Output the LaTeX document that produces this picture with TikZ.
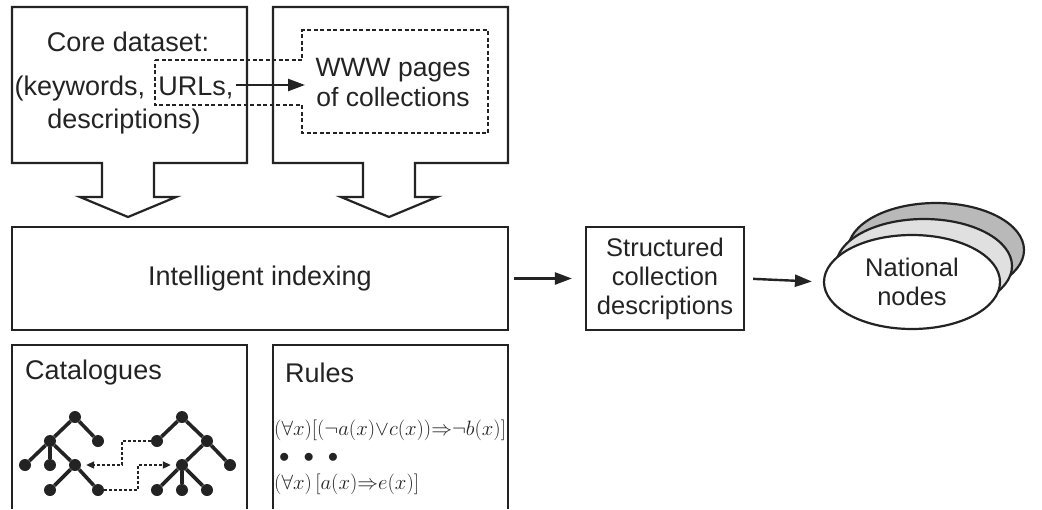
\documentclass[tikz,border=0pt]{standalone}
\usepackage[no-math]{fontspec}
\setmainfont{Liberation Sans}
\usepackage{amsmath,amssymb}
\usepackage{xcolor}
\usetikzlibrary{arrows.meta,positioning,shapes.geometric}
\definecolor{ink}{RGB}{35,35,35}
\definecolor{backgray}{RGB}{185,185,185}
\definecolor{midgray}{RGB}{224,224,224}

\begin{document}
\begin{tikzpicture}[x=1pt,y=-1pt,
  every node/.style={font={\fontsize{27}{33}\selectfont},text=ink},
  box/.style={draw=ink,line width=2.2pt},
  dbox/.style={draw=ink,line width=1.8pt,dash pattern=on 4pt off 2.5pt},
  arr/.style={draw=ink,line width=2.4pt,-{Triangle[length=17pt,width=12pt]}},
  darr/.style={draw=ink,line width=2pt,dash pattern=on 3pt off 2pt,-{Triangle[length=8pt,width=7pt]}},
  dot/.style={circle,fill=ink,inner sep=0pt,minimum size=12pt},
  nat/.style={ellipse,draw=ink,line width=2.2pt,minimum width=176pt,minimum height=94pt},
  mid/.style={font={\fontsize{25.5}{29}\selectfont},align=center},
  rule/.style={anchor=west,inner sep=0pt,font={\fontsize{20.5}{25}\selectfont}}]
 \useasboundingbox (0,0) rectangle (1042,509);
 % input boxes with their chutes
 \foreach \x in {12,273}
   \draw[box] (\x,7) -- ++(235,0) -- ++(0,156) -- (\x+142,163) -- (\x+142,197)
     -- (\x+164,197) -- (\x+116,217) -- (\x+68,197) -- (\x+90,197) -- (\x+90,163)
     -- (\x,163) -- cycle;
 \draw[dbox] (155,60) -- (302,60) -- (302,30) -- (488,30) -- (488,133)
   -- (302,133) -- (302,105) -- (155,105) -- cycle;
 \node[anchor=base] (cd)   at (128,51.5) {Core dataset:};
 \node[anchor=base] (kw)   at (80,95)    {(keywords,};
 \node[anchor=base,inner sep=2pt] (urls) at (196,95) {URLs,};
 \node[anchor=base] (desc) at (124,128)  {descriptions)};
 \node[mid,font={\fontsize{26.5}{30}\selectfont}] (www) at (393,83) {WWW pages\\of collections};
 \coordinate (dashin) at (305,85);
 \draw[arr] (urls.east |- dashin) -- (dashin);
 % main row
 \node[box,minimum width=496pt,minimum height=103pt] (idx) at (260,278.5) {Intelligent indexing};
 \node[box,mid,minimum width=158pt,minimum height=103pt] (scd) at (665,278.5) {Structured\\collection\\descriptions};
 \node[nat,fill=backgray] (nat3) at (936,250) {};
 \node[nat,fill=midgray] (nat2) at (924,266) {};
 \node[nat,fill=white,mid] (nat) at (912,282) {National\\nodes};
 \draw[arr,shorten <=5pt,shorten >=13pt] (idx.east) -- (scd.west);
 \draw[arr,shorten <=8pt,shorten >=11pt] (scd.east) -- (nat.west);
 % knowledge boxes, open at the bottom
 \foreach \x in {12,273}
   \draw[box] (\x,509) -- (\x,345) -- (\x+235,345) -- (\x+235,509);
 \node[anchor=west,inner sep=0pt] (cat) at (25,373) {Catalogues};
 \node[anchor=west,inner sep=0pt] (rul) at (285,373) {Rules};
 % two catalogue trees
 \foreach \n/\p in {l1/{75,417},l2/{50,441},l3/{98,441},l4/{25,465},l5/{50,465},l6/{75,465},l7/{50,490},l8/{98,490},
                    r1/{182,417},r2/{157,441},r3/{207,441},r4/{182,465},r5/{230,465},r6/{157,490},r7/{182,490},r8/{207,490}}
   \node[dot] (\n) at (\p) {};
 \foreach \a/\b in {l1/l2,l1/l3,l2/l4,l2/l5,l2/l6,l6/l7,l6/l8,r1/r2,r1/r3,r3/r4,r3/r5,r4/r6,r4/r7,r4/r8}
   \draw[ink,line width=3.6pt] (\a) -- (\b);
 \draw[darr,shorten >=5pt] (r2) -- ++(-35,0) |- (l6);
 \draw[darr,shorten >=5pt] (l8) -- ++(40,0) |- (r4);
 % rules
 \node[rule] (f1) at (274,430) {$(\forall x)[(\neg a(x){\vee}c(x)){\Rightarrow}\neg b(x)]$};
 \node[rule] (dots) at (279,458) {$\bullet$\hspace{14pt}$\bullet$\hspace{14pt}$\bullet$};
 \node[rule] (f2) at (274,484) {$(\forall x)\,[a(x){\Rightarrow}e(x)]$};
\end{tikzpicture}
\end{document}
